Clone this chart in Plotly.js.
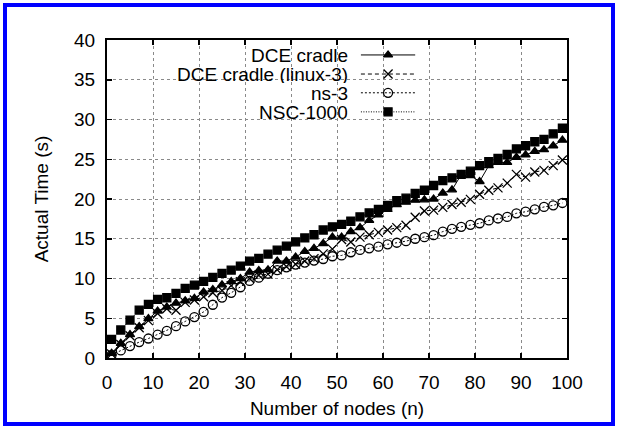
<!DOCTYPE html>
<html><head><meta charset="utf-8">
<script src="https://cdn.plot.ly/plotly-3.0.1.min.js"></script>
<style>
html,body{margin:0;padding:0;background:#fff;overflow:hidden}
#chart{width:618px;height:429px}
#frame{position:absolute;left:3px;top:3px;width:612px;height:423px;border:4px solid #0000ff;box-sizing:border-box;pointer-events:none}
</style></head><body>
<div id="chart"></div><div id="frame"></div>
<script>
// ---- data ----
const nodes = [1,3,5,7,9,11,13,15,17,19,21,23,25,27,29,31,33,35,37,39,41,43,45,47,49,51,53,55,57,59,61,63,65,67,69,71,73,75,77,79,81,83,85,87,89,91,93,95,97,99];
const dceCradle = [0.6,1.85,2.95,3.95,4.95,5.9,6.4,6.9,7.2,7.5,8.3,8.6,9.2,9.6,10.0,10.8,11.0,11.1,12.2,12.2,12.7,13.4,13.8,14.4,15.2,15.2,15.9,16.4,17.3,18.0,18.7,19.3,19.6,19.85,19.9,20.0,20.75,21.15,23.05,22.95,22.2,24.2,24.6,24.6,25.25,25.55,26.0,26.2,26.7,27.4];
const dceLinux3 = [0.5,1.7,2.8,3.8,4.7,5.6,6.2,6.0,7.0,7.3,7.7,8.2,8.5,9.1,9.6,10.0,10.4,10.55,11.1,11.5,11.8,12.2,12.5,13.1,13.7,14.9,14.6,15.2,15.5,15.8,16.1,16.4,16.7,17.7,18.5,18.6,18.95,19.3,19.6,19.95,20.6,21.1,21.4,22.0,23.1,22.75,23.4,23.6,24.2,24.9];
const ns3 = [0.4,0.95,1.5,2.0,2.45,2.95,3.4,4.0,4.6,5.15,5.8,6.7,7.6,8.2,8.9,9.7,10.1,10.6,11.05,11.4,11.75,12.0,12.25,12.45,12.8,12.9,13.3,13.6,13.8,14.0,14.3,14.5,14.7,15.0,15.2,15.45,15.9,16.25,16.5,16.75,16.95,17.3,17.55,17.75,18.2,18.4,18.7,19.0,19.2,19.5];
const nsc1000 = [2.35,3.52,4.77,6.03,6.75,7.37,7.58,8.13,8.76,9.17,9.64,10.14,10.64,11.06,11.56,12.19,12.53,13.07,13.57,14.07,14.61,15.1,15.5,16.1,16.5,16.8,17.2,17.75,18.25,18.7,19.2,19.8,20.1,20.7,21.1,21.7,22.3,22.65,23.1,23.5,24.2,24.7,25.1,25.6,26.3,26.7,27.2,27.5,28.2,28.9];
const seriesNames = ['DCE cradle','DCE cradle (linux-3)','ns-3','NSC-1000'];
const xTicks = [0,10,20,30,40,50,60,70,80,90,100];
const yTicks = [0,5,10,15,20,25,30,35,40];
const xTitle = 'Number of nodes (n)';
const yTitle = 'Actual Time (s)';

// ---- styles ----
const FONT = 'Liberation Sans, Arial, Helvetica, sans-serif';
const styles = [
  {dash:'solid', symbol:'triangle-up', size:8, lw:1},
  {dash:'4px,3px', symbol:'x-thin-open', size:9, lw:1},
  {dash:'2px,2px', symbol:'circle-open', size:9, lw:1},
  {dash:'1px,1.5px', symbol:'square', size:8, lw:1}
];
const seriesY = [dceCradle, dceLinux3, ns3, nsc1000];

const traces = seriesY.map((ys, i) => ({
  x: nodes, y: ys, type:'scatter', mode:'lines+markers', name: seriesNames[i],
  showlegend:false, cliponaxis:false,
  line:{color:'#000', width:styles[i].lw, dash:styles[i].dash},
  marker:{symbol:styles[i].symbol, size:styles[i].size, color:'#000',
          line:{color:'#000', width:1.3}}
}));

// legend (gnuplot style: text right-aligned, sample on the right) drawn on an overlay axis
const legRows = [0.953, 0.893, 0.834, 0.774];
const legX0 = 0.552, legX1 = 0.670, legXm = 0.611, legTextX = 0.526;
seriesNames.forEach((nm, i) => {
  traces.push({x:[legX0, legX1], y:[legRows[i], legRows[i]], xaxis:'x2', yaxis:'y2',
    type:'scatter', mode:'lines', showlegend:false, hoverinfo:'skip',
    line:{color:'#000', width:styles[i].lw, dash:styles[i].dash}});
  traces.push({x:[legXm], y:[legRows[i]], xaxis:'x2', yaxis:'y2',
    type:'scatter', mode:'markers', showlegend:false, hoverinfo:'skip',
    marker:{symbol:styles[i].symbol, size:styles[i].size, color:'#000', line:{color:'#000', width:1.3}}});
});

const annotations = seriesNames.map((nm, i) => ({
  text: nm, xref:'paper', yref:'paper', x: legTextX, y: legRows[i],
  xanchor:'right', yanchor:'middle', showarrow:false, height:18, borderpad:0,
  font:{family:FONT, size:19, color:'#000'}
}));

const axisCommon = {
  showline:true, linecolor:'#000', linewidth:2, mirror:'ticks',
  ticks:'inside', ticklen:5, tickwidth:1.5, tickcolor:'#000',
  showgrid:true, gridcolor:'#8a8a8a', gridwidth:1, griddash:'dot',
  zeroline:false, tickfont:{family:FONT, size:19, color:'#000'}
};

const layout = {
  width:618, height:429,
  margin:{l:107, r:51, t:40, b:71},
  paper_bgcolor:'#fff', plot_bgcolor:'#fff',
  showlegend:false,
  font:{family:FONT, color:'#000'},
  xaxis: Object.assign({}, axisCommon, {range:[0,100], tickvals:xTicks, ticklabelstandoff:6,
    title:{text:xTitle, font:{family:FONT, size:19, color:'#000'}, standoff:10}}),
  yaxis: Object.assign({}, axisCommon, {range:[0,40], tickvals:yTicks, ticklabelstandoff:6,
    title:{text:yTitle, font:{family:FONT, size:19, color:'#000'}, standoff:20}}),
  xaxis2:{overlaying:'x', range:[0,1], visible:false, fixedrange:true},
  yaxis2:{overlaying:'y', range:[0,1], visible:false, fixedrange:true},
  shapes:[{type:'rect', xref:'paper', yref:'paper', x0:0.024, x1:0.693, y0:0.75, y1:1,
    fillcolor:'#fff', line:{width:0}, layer:'between'}],
  annotations: annotations
};

Plotly.newPlot('chart', traces, layout, {displayModeBar:false, staticPlot:true});
</script>
</body></html>
